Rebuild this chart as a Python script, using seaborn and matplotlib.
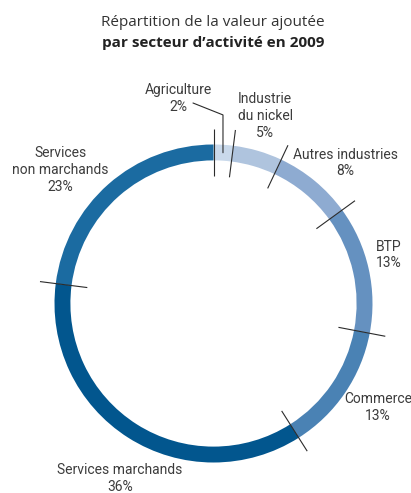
import numpy as np
import matplotlib
matplotlib.use("Agg")
import matplotlib.pyplot as plt
import seaborn as sns

sns.set_theme(style="white")

# ---- data ----
categories = ["Agriculture", "Industrie du nickel", "Autres industries", "BTP",
              "Commerce", "Services marchands", "Services non marchands"]
label_texts = ["Agriculture\n2%", "Industrie\ndu nickel\n5%", "Autres industries\n8%",
               "BTP\n13%", "Commerce\n13%", "Services marchands\n36%",
               "Services\nnon marchands\n23%"]
values = [2, 5, 8, 13, 13, 36, 23]
colors = ["#c9d9eb", "#afc4de", "#8eabd1", "#6591c0", "#4a82b4", "#02568e", "#1b6ba1"]

# label anchor positions (layout, data units; ring radius = 1)
label_pos = [(-0.223, 1.289), (0.324, 1.179), (0.83, 0.884), (1.104, 0.305),
             (1.035, -0.654), (-0.588, -1.101), (-0.965, 0.84)]

W, H = 411, 493
DPI = 100
fig = plt.figure(figsize=(W / DPI, H / DPI), dpi=DPI)
ax = fig.add_axes([0, 0, 1, 1])

cx, cy, R = 213.5, 303.5, 159.0
ax.pie(values, colors=colors, startangle=90, counterclock=False, radius=1.0,
       wedgeprops=dict(width=0.1, edgecolor="none", linewidth=0))
ax.set_aspect("auto")
ax.set_xlim(-cx / R, (W - cx) / R)
ax.set_ylim(-(H - cy) / R, cy / R)
ax.axis("off")

# separators at segment boundaries
cum = np.concatenate([[0], np.cumsum(values)])[:-1]
for c in cum:
    ang = np.deg2rad(90 - 360 * c / sum(values))
    r0, r1 = 0.8, 1.1
    ax.plot([r0 * np.cos(ang), r1 * np.cos(ang)], [r0 * np.sin(ang), r1 * np.sin(ang)],
            color="#2b2b2b", lw=0.8, solid_capstyle="butt", zorder=5)

label_font = ["Roboto", "DejaVu Sans"]
for txt, (x, y) in zip(label_texts, label_pos):
    ax.text(x, y, txt, ha="center", va="center", fontsize=10, color="#3c3c3c",
            family=label_font, linespacing=1.25)

# leader line for Agriculture
mid = np.deg2rad(90 - 360 * (values[0] / 2) / sum(values))
px, py = 0.95 * np.cos(mid), 0.95 * np.sin(mid)
ax.plot([-0.129, px, px], [1.261, 1.186, py], color="#2b2b2b", lw=0.8, zorder=5)

fig.text(213 / W, 1 - 22 / H, "Répartition de la valeur ajoutée", ha="center", va="center",
         fontsize=11, color="#333333", family=["Open Sans", "DejaVu Sans"])
fig.text(213 / W, 1 - 43 / H, "par secteur d\u2019activité en 2009", ha="center", va="center",
         fontsize=11, color="#222222", fontweight="bold", family=["Open Sans", "DejaVu Sans"])

fig.savefig("out.png", dpi=DPI)
